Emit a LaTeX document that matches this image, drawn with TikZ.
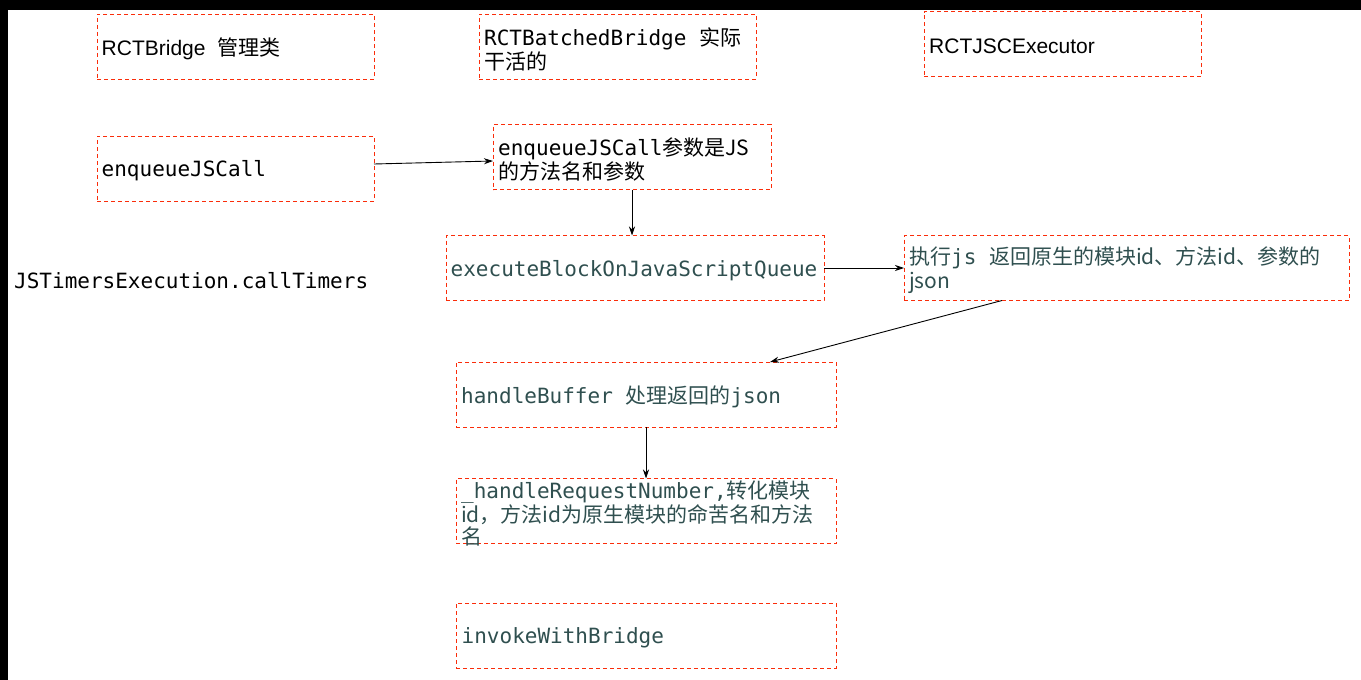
\documentclass[tikz,border=0pt]{standalone}
\usepackage{fontspec}
\setmainfont{Liberation Sans}
\setmonofont{DejaVu Sans Mono}
\newfontfamily\cjk{Noto Sans CJK SC}
\newcommand\zh[1]{{\cjk #1}}
\usetikzlibrary{arrows.meta}
\definecolor{boxred}{RGB}{250,45,10}
\definecolor{codeteal}{RGB}{47,79,79}
\tikzset{
  box/.style={draw=boxred,dash pattern=on 4pt off 3pt,line width=1pt,
    inner sep=0pt,outer sep=0pt,minimum width=#1,minimum height=65pt},
  box/.default=277pt,
  txt/.style={anchor=west,inner sep=0pt,align=left,yshift=-2.5pt,font=\fontsize{21}{24}\selectfont},
  code/.style={txt,font=\fontsize{21}{24}\selectfont\ttfamily},
  flow/.style={->,line width=0.9pt},
}
\begin{document}
\begin{tikzpicture}[>={Stealth[length=9pt,width=6pt]},x=1pt,y=-1pt]
		\useasboundingbox (0,0) rectangle (1361,680);
		% frame edges
		\fill[black] (0,0) rectangle (1361,10);
		\fill[black] (0,0) rectangle (8,680);
		% class headers
		\node[box] (bridge) at (235.5,46.5) {};
		\node[txt] (bridgetxt) at ([xshift=4.5pt]bridge.west) {RCTBridge\hspace{12pt}\zh{管理类}};
		\node[box] (batched) at (617.5,46.5) {};
		\node[code] (batchedtxt) at ([xshift=5pt]batched.west) {RCTBatchedBridge \zh{实际}\\\zh{干活的}};
		\node[box] (jsc) at (1062.5,44) {};
		\node[txt] (jsctxt) at ([xshift=5pt]jsc.west) {RCTJSCExecutor};
		% call flow
		\node[box] (call) at (235.5,168.5) {};
		\node[code] (calltxt) at ([xshift=4.5pt]call.west) {enqueueJSCall};
		\node[box=278pt] (callargs) at (632,157) {};
		\node[code] (callargstxt) at ([xshift=5pt]callargs.west) {enqueueJSCall\zh{参数是JS}\\\zh{的方法名和参数}};
		\node[code,yshift=2.5pt] (timers) at (14,281) {JSTimersExecution.callTimers};
		\node[box=378pt] (queue) at (635,268) {};
		\node[code,text=codeteal] (queuetxt) at ([xshift=4.5pt]queue.west) {executeBlockOnJavaScriptQueue};
		\node[box=445pt] (exec) at (1126.5,268) {};
		\node[code,text=codeteal] (exectxt) at ([xshift=5pt]exec.west) {\zh{执行}js \zh{返回原生的模块id、方法id、参数的}\\\zh{json}};
		\node[box=380pt] (buffer) at (646,394.5) {};
		\node[code,text=codeteal] (buffertxt) at ([xshift=5pt]buffer.west) {handleBuffer \zh{处理返回的}json};
		\node[box=380pt] (request) at (646,511) {};
		\node[code,text=codeteal,font=\fontsize{21}{22.5}\selectfont\ttfamily] (requesttxt) at ([xshift=5pt]request.west)
			{\_handleRequestNumber,\zh{转化模块}\\\zh{id，方法id为原生模块的命苦名和方法}\\\zh{名}};
		\node[box=380pt] (invoke) at (646,635.5) {};
		\node[code,text=codeteal] (invoketxt) at ([xshift=5.5pt]invoke.west) {invokeWithBridge};
		% connectors
		\draw[flow] ([yshift=4.5pt]call.east) -- ([yshift=-4pt]callargs.west);
		\draw[flow] (callargs.south) -- (callargs.south |- queue.north);
		\draw[flow] (queue.east) -- (exec.west);
		\draw[flow] ([xshift=-124.5pt]exec.south) -- ([xshift=124pt]buffer.north);
		\draw[flow] (buffer.south) -- (request.north);
\end{tikzpicture}
\end{document}
